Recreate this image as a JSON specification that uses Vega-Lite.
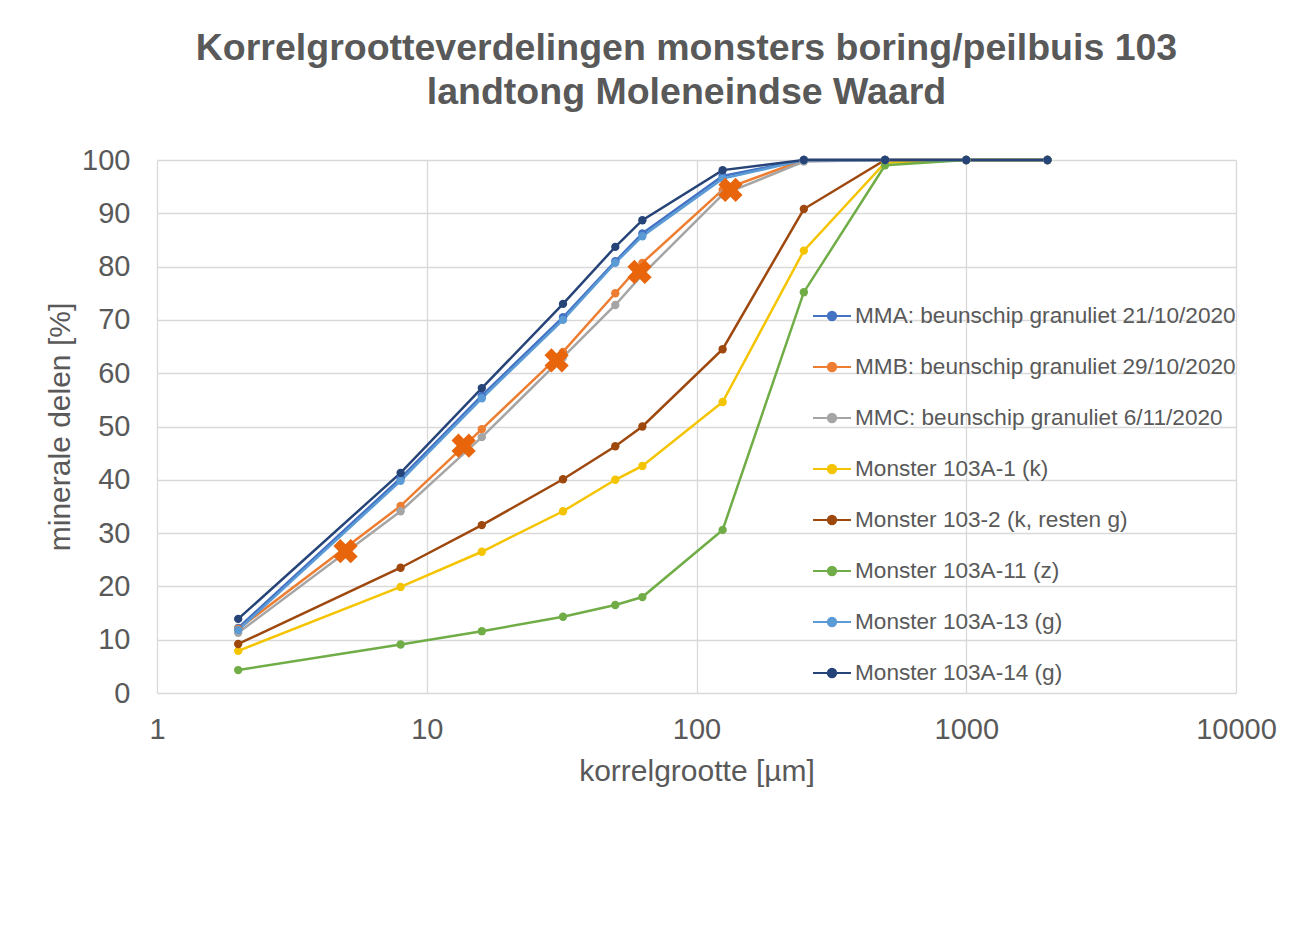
{
  "$schema": "https://vega.github.io/schema/vega-lite/v6.json",
  "autosize": "none",
  "width": 1079,
  "height": 533,
  "padding": {"left": 157, "top": 160, "right": 55, "bottom": 242},
  "background": "white",
  "title": {
    "text": ["Korrelgrootteverdelingen monsters boring/peilbuis 103", "landtong Moleneindse Waard"],
    "font": "Liberation Sans",
    "fontSize": 37.5,
    "fontWeight": "bold",
    "color": "#595959",
    "anchor": "middle",
    "frame": "group",
    "offset": 35,
    "lineHeight": 44,
    "dx": -10
  },
  "config": {
    "view": {"stroke": null},
    "font": "Liberation Sans",
    "axis": {
      "labelFont": "Liberation Sans",
      "titleFont": "Liberation Sans",
      "labelColor": "#595959",
      "titleColor": "#595959",
      "labelFontSize": 29,
      "titleFontSize": 30,
      "titleFontWeight": "normal",
      "gridColor": "#D9D9D9",
      "gridWidth": 1.3,
      "domain": false,
      "ticks": false
    }
  },
  "datasets": {
    "curves": [
      {"series": "MMA: beunschip granuliet 21/10/2020", "size": 2, "pct": 12.2},
      {"series": "MMA: beunschip granuliet 21/10/2020", "size": 8, "pct": 40.3},
      {"series": "MMA: beunschip granuliet 21/10/2020", "size": 16, "pct": 55.8},
      {"series": "MMA: beunschip granuliet 21/10/2020", "size": 32, "pct": 70.5},
      {"series": "MMA: beunschip granuliet 21/10/2020", "size": 50, "pct": 81},
      {"series": "MMA: beunschip granuliet 21/10/2020", "size": 63, "pct": 86.2},
      {"series": "MMA: beunschip granuliet 21/10/2020", "size": 125, "pct": 97},
      {"series": "MMA: beunschip granuliet 21/10/2020", "size": 250, "pct": 100},
      {"series": "MMA: beunschip granuliet 21/10/2020", "size": 500, "pct": 100},
      {"series": "MMA: beunschip granuliet 21/10/2020", "size": 1000, "pct": 100},
      {"series": "MMA: beunschip granuliet 21/10/2020", "size": 2000, "pct": 100},

      {"series": "MMB: beunschip granuliet 29/10/2020", "size": 2, "pct": 12},
      {"series": "MMB: beunschip granuliet 29/10/2020", "size": 8, "pct": 35.1},
      {"series": "MMB: beunschip granuliet 29/10/2020", "size": 16, "pct": 49.5},
      {"series": "MMB: beunschip granuliet 29/10/2020", "size": 32, "pct": 64},
      {"series": "MMB: beunschip granuliet 29/10/2020", "size": 50, "pct": 75},
      {"series": "MMB: beunschip granuliet 29/10/2020", "size": 63, "pct": 80.7},
      {"series": "MMB: beunschip granuliet 29/10/2020", "size": 125, "pct": 94.4},
      {"series": "MMB: beunschip granuliet 29/10/2020", "size": 250, "pct": 100},
      {"series": "MMB: beunschip granuliet 29/10/2020", "size": 500, "pct": 100},
      {"series": "MMB: beunschip granuliet 29/10/2020", "size": 1000, "pct": 100},
      {"series": "MMB: beunschip granuliet 29/10/2020", "size": 2000, "pct": 100},

      {"series": "MMC: beunschip granuliet 6/11/2020", "size": 2, "pct": 11.3},
      {"series": "MMC: beunschip granuliet 6/11/2020", "size": 8, "pct": 34.1},
      {"series": "MMC: beunschip granuliet 6/11/2020", "size": 16, "pct": 48},
      {"series": "MMC: beunschip granuliet 6/11/2020", "size": 32, "pct": 63},
      {"series": "MMC: beunschip granuliet 6/11/2020", "size": 50, "pct": 72.8},
      {"series": "MMC: beunschip granuliet 6/11/2020", "size": 63, "pct": 78.5},
      {"series": "MMC: beunschip granuliet 6/11/2020", "size": 125, "pct": 93.5},
      {"series": "MMC: beunschip granuliet 6/11/2020", "size": 250, "pct": 99.7},
      {"series": "MMC: beunschip granuliet 6/11/2020", "size": 500, "pct": 100},
      {"series": "MMC: beunschip granuliet 6/11/2020", "size": 1000, "pct": 100},
      {"series": "MMC: beunschip granuliet 6/11/2020", "size": 2000, "pct": 100},

      {"series": "Monster 103A-1 (k)", "size": 2, "pct": 7.9},
      {"series": "Monster 103A-1 (k)", "size": 8, "pct": 19.9},
      {"series": "Monster 103A-1 (k)", "size": 16, "pct": 26.5},
      {"series": "Monster 103A-1 (k)", "size": 32, "pct": 34.1},
      {"series": "Monster 103A-1 (k)", "size": 50, "pct": 40},
      {"series": "Monster 103A-1 (k)", "size": 63, "pct": 42.6},
      {"series": "Monster 103A-1 (k)", "size": 125, "pct": 54.6},
      {"series": "Monster 103A-1 (k)", "size": 250, "pct": 83},
      {"series": "Monster 103A-1 (k)", "size": 500, "pct": 99.5},
      {"series": "Monster 103A-1 (k)", "size": 1000, "pct": 100},
      {"series": "Monster 103A-1 (k)", "size": 2000, "pct": 100},

      {"series": "Monster 103-2 (k, resten g)", "size": 2, "pct": 9.2},
      {"series": "Monster 103-2 (k, resten g)", "size": 8, "pct": 23.5},
      {"series": "Monster 103-2 (k, resten g)", "size": 16, "pct": 31.5},
      {"series": "Monster 103-2 (k, resten g)", "size": 32, "pct": 40.1},
      {"series": "Monster 103-2 (k, resten g)", "size": 50, "pct": 46.3},
      {"series": "Monster 103-2 (k, resten g)", "size": 63, "pct": 50},
      {"series": "Monster 103-2 (k, resten g)", "size": 125, "pct": 64.5},
      {"series": "Monster 103-2 (k, resten g)", "size": 250, "pct": 90.8},
      {"series": "Monster 103-2 (k, resten g)", "size": 500, "pct": 100},
      {"series": "Monster 103-2 (k, resten g)", "size": 1000, "pct": 100},
      {"series": "Monster 103-2 (k, resten g)", "size": 2000, "pct": 100},

      {"series": "Monster 103A-11 (z)", "size": 2, "pct": 4.3},
      {"series": "Monster 103A-11 (z)", "size": 8, "pct": 9.1},
      {"series": "Monster 103A-11 (z)", "size": 16, "pct": 11.6},
      {"series": "Monster 103A-11 (z)", "size": 32, "pct": 14.3},
      {"series": "Monster 103A-11 (z)", "size": 50, "pct": 16.5},
      {"series": "Monster 103A-11 (z)", "size": 63, "pct": 18},
      {"series": "Monster 103A-11 (z)", "size": 125, "pct": 30.6},
      {"series": "Monster 103A-11 (z)", "size": 250, "pct": 75.2},
      {"series": "Monster 103A-11 (z)", "size": 500, "pct": 99},
      {"series": "Monster 103A-11 (z)", "size": 1000, "pct": 100},
      {"series": "Monster 103A-11 (z)", "size": 2000, "pct": 100},

      {"series": "Monster 103A-13 (g)", "size": 2, "pct": 11.8},
      {"series": "Monster 103A-13 (g)", "size": 8, "pct": 39.8},
      {"series": "Monster 103A-13 (g)", "size": 16, "pct": 55.3},
      {"series": "Monster 103A-13 (g)", "size": 32, "pct": 70},
      {"series": "Monster 103A-13 (g)", "size": 50, "pct": 80.7},
      {"series": "Monster 103A-13 (g)", "size": 63, "pct": 85.7},
      {"series": "Monster 103A-13 (g)", "size": 125, "pct": 96.5},
      {"series": "Monster 103A-13 (g)", "size": 250, "pct": 100},
      {"series": "Monster 103A-13 (g)", "size": 500, "pct": 100},
      {"series": "Monster 103A-13 (g)", "size": 1000, "pct": 100},
      {"series": "Monster 103A-13 (g)", "size": 2000, "pct": 100},

      {"series": "Monster 103A-14 (g)", "size": 2, "pct": 13.9},
      {"series": "Monster 103A-14 (g)", "size": 8, "pct": 41.3},
      {"series": "Monster 103A-14 (g)", "size": 16, "pct": 57.2},
      {"series": "Monster 103A-14 (g)", "size": 32, "pct": 73},
      {"series": "Monster 103A-14 (g)", "size": 50, "pct": 83.7},
      {"series": "Monster 103A-14 (g)", "size": 63, "pct": 88.7},
      {"series": "Monster 103A-14 (g)", "size": 125, "pct": 98.1},
      {"series": "Monster 103A-14 (g)", "size": 250, "pct": 100},
      {"series": "Monster 103A-14 (g)", "size": 500, "pct": 100},
      {"series": "Monster 103A-14 (g)", "size": 1000, "pct": 100},
      {"series": "Monster 103A-14 (g)", "size": 2000, "pct": 100}
    ],
    "markers": [
      {"size": 5, "pct": 26.6},
      {"size": 13.7, "pct": 46.4},
      {"size": 30.3, "pct": 62.4},
      {"size": 61.5, "pct": 79},
      {"size": 133.6, "pct": 94.4}
    ]
  },
  "layer": [
    {
      "data": {"name": "curves"},
      "mark": {"type": "line", "strokeWidth": 2.5, "point": {"filled": true, "size": 70}},
      "encoding": {
        "x": {
          "field": "size", "type": "quantitative",
          "scale": {"type": "log", "domain": [1, 10000], "nice": false},
          "axis": {"values": [1, 10, 100, 1000, 10000], "format": "d", "labelPadding": 22, "title": "korrelgrootte [µm]", "titlePadding": 12, "labelFlush": false}
        },
        "y": {
          "field": "pct", "type": "quantitative",
          "scale": {"domain": [0, 100], "nice": false},
          "axis": {"values": [0, 10, 20, 30, 40, 50, 60, 70, 80, 90, 100], "labelPadding": 27, "title": "minerale delen [%]", "titlePadding": 6}
        },
        "color": {
          "field": "series", "type": "nominal",
          "scale": {
            "domain": [
              "MMA: beunschip granuliet 21/10/2020",
              "MMB: beunschip granuliet 29/10/2020",
              "MMC: beunschip granuliet 6/11/2020",
              "Monster 103A-1 (k)",
              "Monster 103-2 (k, resten g)",
              "Monster 103A-11 (z)",
              "Monster 103A-13 (g)",
              "Monster 103A-14 (g)"
            ],
            "range": ["#4472C4", "#ED7D31", "#A5A5A5", "#F5C400", "#9E480E", "#70AD47", "#5B9BD5", "#264478"]
          },
          "legend": {
            "title": null,
            "orient": "none",
            "legendX": 655,
            "legendY": 136,
            "padding": 0,
            "rowPadding": 19,
            "labelFont": "Liberation Sans",
            "labelFontSize": 22.6,
            "labelColor": "#595959",
            "labelOffset": 3,
            "labelLimit": 500,
            "symbolType": "M-1,0L1,0M0.22,0A0.22,0.22,0,1,1,-0.22,0A0.22,0.22,0,1,1,0.22,0Z",
            "symbolSize": 1444,
            "symbolStrokeWidth": 2
          }
        }
      }
    },
    {
      "data": {"name": "markers"},
      "mark": {"type": "point", "shape": "cross", "angle": 45, "filled": true, "size": 600, "color": "#E8650C", "opacity": 1},
      "encoding": {
        "x": {"field": "size", "type": "quantitative"},
        "y": {"field": "pct", "type": "quantitative"}
      }
    }
  ]
}
